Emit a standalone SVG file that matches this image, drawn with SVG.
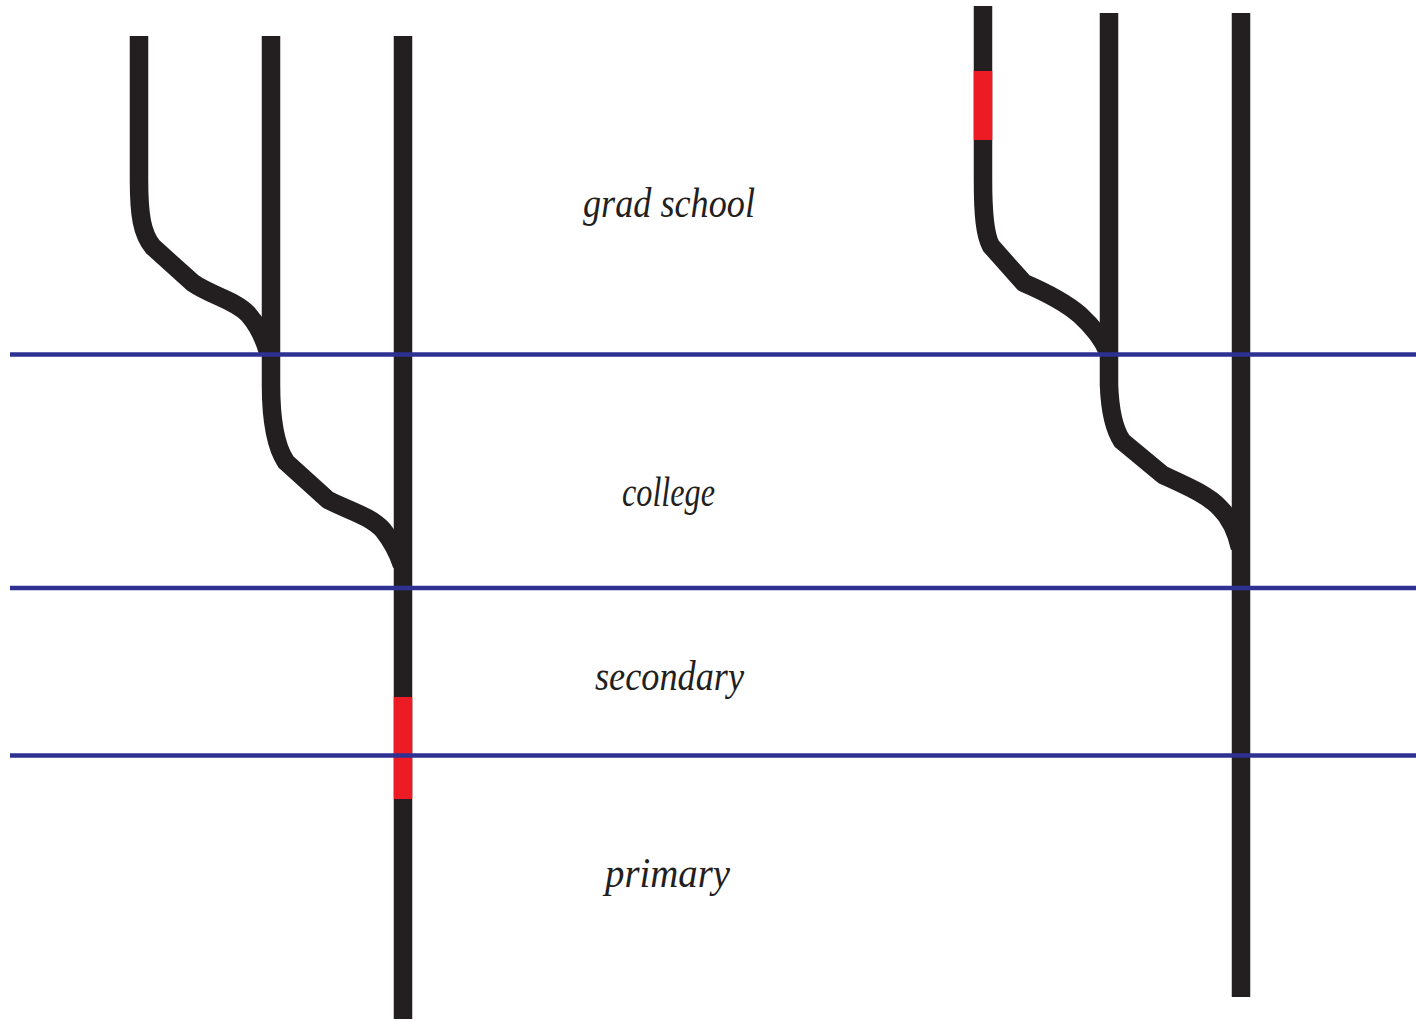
<svg xmlns="http://www.w3.org/2000/svg" width="1416" height="1021" viewBox="0 0 1416 1021">
<style>
.trunk{fill:none;stroke:#231f20;stroke-width:18.5;stroke-linecap:butt;stroke-linejoin:round}
.red{fill:none;stroke:#ed1c24;stroke-width:18.5;stroke-linecap:butt}
.band{stroke:#2e3192;stroke-width:4.5;fill:none}
.lbl{font-family:"Liberation Serif","Times New Roman",serif;font-style:italic;font-size:43px;fill:#231f20;text-anchor:middle}
</style>
<rect width="1416" height="1021" fill="#ffffff"/>
<g id="connectors">
<g id="left-tree">
<path class="trunk" d="M139,36 V180 C139,215 142,234 153,247 L193,283 C212,296 235,300 248,314 C256,323 263,335 268,352"/>
<path class="trunk" d="M271,36 V385 C271,420 276,447 286,462 L328,500 C350,511 370,516 383,530 C391,540 397,550 402,565"/>
<path class="trunk" d="M403,36 V1019"/>
<path class="red" d="M403,697 V799"/>
</g>
<g id="right-tree">
<path class="trunk" d="M983,6 V180 C983,215 985,235 991,246 L1024,283 C1045,292 1065,302 1080,315 C1092,326 1102,338 1108,352"/>
<path class="red" d="M983,71 V140"/>
<path class="trunk" d="M1109,13 V385 C1110,412 1114,429 1122,441 L1163,475 C1187,486 1208,495 1220,508 C1230,518 1236,530 1240,548"/>
<path class="trunk" d="M1241,13 V997"/>
</g>
</g>
<g id="bands">
<line class="band" x1="10" y1="354.5" x2="1416" y2="354.5"/>
<line class="band" x1="10" y1="588" x2="1416" y2="588"/>
<line class="band" x1="10" y1="755.5" x2="1416" y2="755.5"/>
</g>
<g id="label-grad"><text class="lbl" x="669" y="217" textLength="172" lengthAdjust="spacingAndGlyphs">grad school</text></g>
<g id="label-college"><text class="lbl" x="668.5" y="506" textLength="93" lengthAdjust="spacingAndGlyphs">college</text></g>
<g id="label-secondary"><text class="lbl" x="669.5" y="690" textLength="149" lengthAdjust="spacingAndGlyphs">secondary</text></g>
<g id="label-primary"><text class="lbl" x="667.5" y="887" textLength="125" lengthAdjust="spacingAndGlyphs">primary</text></g>
</svg>
